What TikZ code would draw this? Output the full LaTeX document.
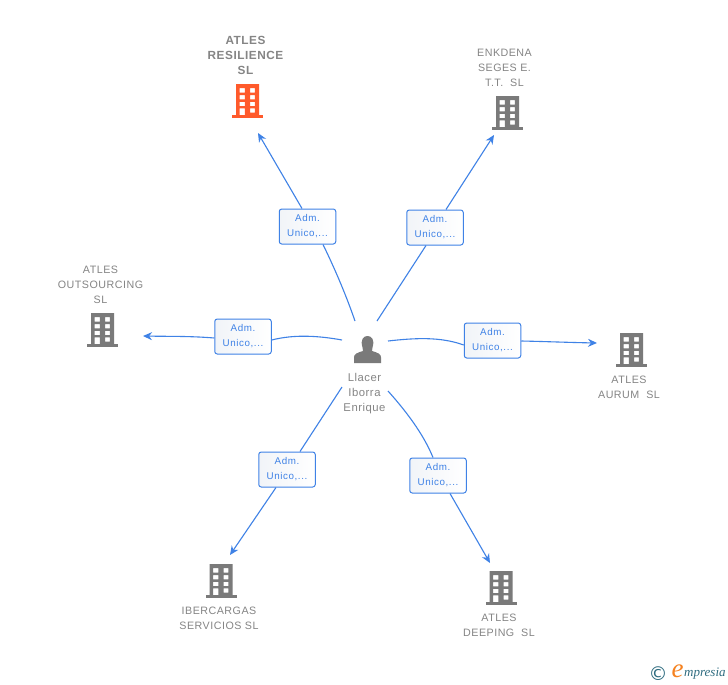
\documentclass[tikz,border=0pt]{standalone}
\usepackage{fontspec}
\setmainfont{Liberation Sans}
\newfontfamily\spaced[LetterSpace=4.6]{Liberation Sans}
\newfontfamily\boxfont[LetterSpace=6]{Liberation Sans}
\newfontfamily\logoserif{Liberation Serif}
\newfontfamily\logosym{DejaVu Sans}
\usetikzlibrary{arrows.meta,positioning}
\definecolor{linkblue}{HTML}{3F82E6}
\definecolor{txtgray}{HTML}{858585}
\definecolor{iconorange}{HTML}{FF5A2B}
\definecolor{icongray}{HTML}{7A7A7A}
\definecolor{logoteal}{HTML}{2E6C80}
\definecolor{logoorange}{HTML}{F58220}
\definecolor{boxshade}{HTML}{F1F4F8}
\tikzset{
  role/.style={draw=linkblue,line width=1pt,rounded corners=2.5pt,minimum width=56.5pt,minimum height=35pt,inner sep=0pt,
    left color=boxshade,right color=white,text=linkblue,font=\boxfont\fontsize{9.8}{15}\selectfont,align=center},
  link/.style={draw=linkblue,line width=1.1pt},
  arrowlink/.style={link,-{Stealth[length=9pt,width=8pt]}},
  caption/.style={text=txtgray,font=\spaced\fontsize{10.7}{15}\selectfont,align=center,inner sep=0pt},
  maincaption/.style={text=txtgray,font=\spaced\bfseries\fontsize{11.8}{15}\selectfont,align=center,inner sep=0pt},
  bldbox/.style={minimum width=31pt,minimum height=34pt,inner sep=0pt}
}
% building icon centred on a node
\newcommand{\bldicon}[2]{%
  \begin{scope}[shift={(#1.center)}]
    \fill[#2,even odd rule]
      (-11.5,-17) rectangle (11.5,15)
      (-7.8,-13) rectangle (-2.6,-8.4)  (2.6,-13) rectangle (7.4,-8.4)
      (-7.8,-6) rectangle (-2.6,-1.6) (2.6,-6) rectangle (7.4,-1.6)
      (-7.8,0.8) rectangle (-2.6,5.2) (2.6,0.8) rectangle (7.4,5.2)
      (-7.8,7.4) rectangle (-2.6,15) (2.6,7.4) rectangle (7.4,11.6);
    \fill[#2] (-15.5,14) rectangle (15.5,17);
  \end{scope}}
\begin{document}
\begin{tikzpicture}[x=1pt,y=-1pt]
\useasboundingbox (0,0) rectangle (728,685);
\fill[white] (0,0) rectangle (728,685);

% companies
\node[bldbox] (resil) at (247.5,101) {};
\node[bldbox] (enk) at (507.5,113) {};
\node[bldbox] (outs) at (102.5,330) {};
\node[bldbox] (aurum) at (631.5,350) {};
\node[bldbox] (iber) at (221,581) {};
\node[bldbox] (deep) at (501,588) {};
\bldicon{resil}{iconorange}
\bldicon{enk}{icongray}
\bldicon{outs}{icongray}
\bldicon{aurum}{icongray}
\bldicon{iber}{icongray}
\bldicon{deep}{icongray}

\node[maincaption] (tresil) at (245.5,55) {ATLES\\RESILIENCE\\SL};
\node[caption] (tenk) at (504.5,68) {ENKDENA\\SEGES E.\\T.T.\ \ SL};
\node[caption] (touts) at (100.5,285) {ATLES\\OUTSOURCING\\SL};
\node[caption] (taurum) at (629,387) {ATLES\\AURUM\ \ SL};
\node[caption] (tiber) at (219,618.5) {IBERCARGAS\\SERVICIOS SL};
\node[caption] (tdeep) at (499,625.5) {ATLES\\DEEPING\ \ SL};

% person
\node[minimum width=27pt,minimum height=27pt,inner sep=0pt] (person) at (367.5,349.5) {};
\begin{scope}[shift={(person.center)}]
  \fill[icongray] (-13.5,13.5) -- (-13.5,8) .. controls (-13.5,4.5) and (-11,3.5) .. (-4.5,1.5)
     .. controls (-4.5,0.5) and (-4.5,-0.5) .. (-5,-2) .. controls (-7.5,-10) and (-4,-13.5) .. (0,-13.5)
     .. controls (4,-13.5) and (7.5,-10) .. (5,-2) .. controls (4.5,-0.5) and (4.5,0.5) .. (4.5,1.5)
     .. controls (11,3.5) and (13.5,4.5) .. (13.5,8) -- (13.5,13.5) -- cycle;
\end{scope}
\node[text=txtgray,font=\spaced\fontsize{11.3}{15}\selectfont,align=center,inner sep=0pt] (tperson) at (364.5,393.5) {Llacer\\Iborra\\Enrique};

% role boxes
\node[role] (r1) at (307.5,226.5) {Adm.\\Unico,...};
\node[role] (r2) at (435,227.5) {Adm.\\Unico,...};
\node[role] (r3) at (243,336.5) {Adm.\\Unico,...};
\node[role] (r4) at (492.5,340.5) {Adm.\\Unico,...};
\node[role] (r5) at (287,469.5) {Adm.\\Unico,...};
\node[role] (r6) at (438,475.5) {Adm.\\Unico,...};

% connector free ends
\coordinate (s1) at (355,321); \coordinate (e1) at (258,133);
\coordinate (s2) at (377,321); \coordinate (e2) at (494,135);
\coordinate (s3) at (342,340); \coordinate (e3) at (143,336);
\coordinate (s4) at (388,341); \coordinate (e4) at (597,343);
\coordinate (s5) at (342,387); \coordinate (e5) at (230,555);
\coordinate (s6) at (388,391); \coordinate (e6) at (490,563);

\draw[link] (s1) .. controls (345,292) and (333,265) .. ([xshift=15.5pt]r1.south);
\draw[arrowlink] ([xshift=-5.5pt]r1.north) -- (e1);
\draw[link] (s2) -- ([xshift=-9pt]r2.south);
\draw[arrowlink] ([xshift=11pt]r2.north) -- (e2);
\draw[link] (s3) .. controls (320,336) and (295,334) .. ([yshift=-3.5pt]r3.east);
\draw[arrowlink] ([yshift=-1.5pt]r3.west) .. controls (190,336) and (170,336.5) .. (e3);
\draw[link] (s4) .. controls (415,338) and (440,336.5) .. ([yshift=-4.5pt]r4.west);
\draw[arrowlink] ([yshift=-0.5pt]r4.east) .. controls (545,341.5) and (570,342.5) .. (e4);
\draw[link] (s5) -- ([xshift=13pt]r5.north);
\draw[arrowlink] ([xshift=-11pt]r5.south) -- (e5);
\draw[link] (s6) .. controls (405,410) and (423,433) .. ([xshift=-5pt]r6.north);
\draw[arrowlink] ([xshift=12pt]r6.south) -- (e6);

% logo
\node[inner sep=0pt,text=logoteal,font=\logosym\fontsize{19}{19}\selectfont] (lc) at (658,674) {©};
\node[inner sep=0pt,text=logoorange,font=\logoserif\itshape\fontsize{27}{27}\selectfont] (le) at (677.5,671) {e};
\node[inner sep=0pt,text=logoteal,font=\logoserif\itshape\fontsize{13}{13}\selectfont,anchor=west] (lm) at (684,674) {mpresia};
\end{tikzpicture}
\end{document}
